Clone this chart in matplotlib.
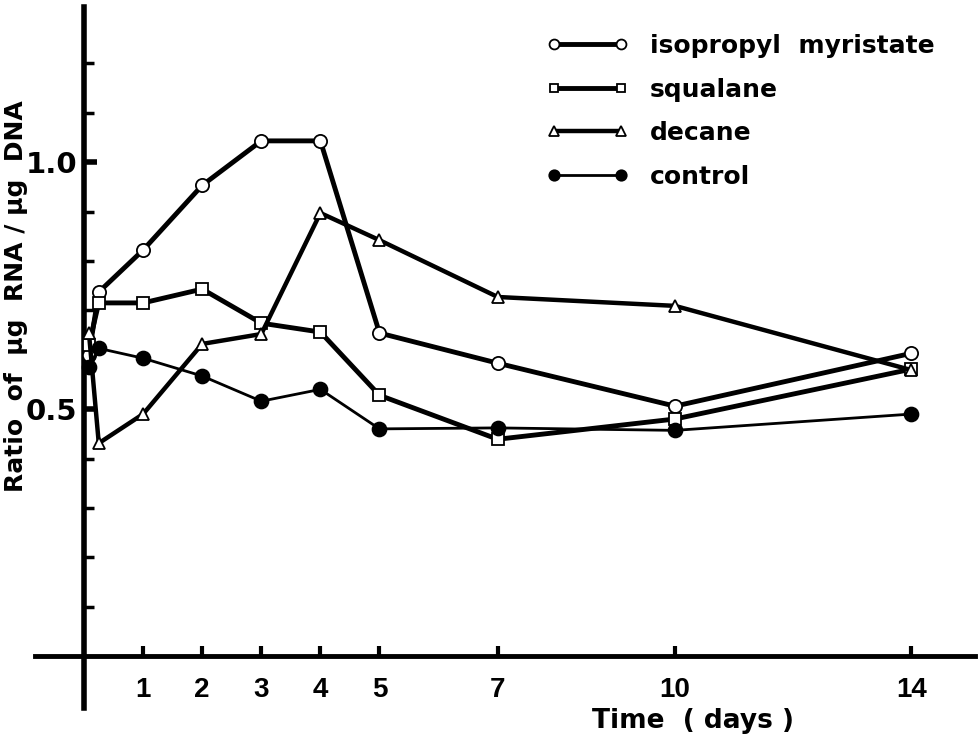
import matplotlib
matplotlib.use("Agg")
import matplotlib.pyplot as plt
from matplotlib.ticker import FixedLocator, NullFormatter

# time points (days); first two points are 2 h and 6 h
days = [0.083, 0.25, 1, 2, 3, 4, 5, 7, 10, 14]

isopropyl = [0.61, 0.737, 0.822, 0.953, 1.043, 1.043, 0.654, 0.593, 0.506, 0.613]
squalane = [0.63, 0.715, 0.715, 0.743, 0.674, 0.656, 0.528, 0.439, 0.480, 0.581]
decane = [0.655, 0.431, 0.490, 0.632, 0.652, 0.897, 0.842, 0.727, 0.709, 0.579]
control = [0.585, 0.623, 0.603, 0.567, 0.516, 0.540, 0.460, 0.462, 0.457, 0.490]

series_names = ["isopropyl  myristate", "squalane", "decane", "control"]
x_ticks = [1, 2, 3, 4, 5, 7, 10, 14]
y_ticks = [0.1, 0.2, 0.3, 0.4, 0.6, 0.7, 0.8, 0.9, 1.1, 1.2]
y_major = [0.5, 1.0]

plt.rcParams["font.family"] = ["DejaVu Sans"]

fig = plt.figure(figsize=(9.79, 7.37), dpi=100)
ax = fig.add_axes([35 / 979, 29 / 737, 940 / 979, 701 / 737])
ax.set_xlim(-0.829, 15.076)
ax.set_ylim(-0.105, 1.314)

for side in ("top", "right"):
    ax.spines[side].set_visible(False)
ax.spines["left"].set_position(("data", 0))
ax.spines["bottom"].set_position(("data", 0))
ax.spines["left"].set_linewidth(4)
ax.spines["bottom"].set_linewidth(3.5)

common = dict(color="black", markeredgecolor="black", markeredgewidth=1.3,
              clip_on=False, zorder=3)
ax.plot(days, isopropyl, marker="o", markersize=9.5, markerfacecolor="white",
        linewidth=3.5, label=series_names[0], **common)
ax.plot(days, squalane, marker="s", markersize=8, markerfacecolor="white",
        linewidth=3.5, label=series_names[1], **common)
ax.plot(days, decane, marker="^", markersize=9, markerfacecolor="white",
        linewidth=3.2, label=series_names[2], **common)
ax.plot(days, control, marker="o", markersize=10, markerfacecolor="black",
        linewidth=2.0, label=series_names[3], **common)

wide = ["Liberation Sans", "DejaVu Sans"]

ax.xaxis.set_major_locator(FixedLocator(x_ticks))
ax.set_xticklabels([str(t) for t in x_ticks], fontsize=20,
                   fontweight="bold", family=wide)
ax.tick_params(axis="x", direction="in", length=7, width=3, pad=15)

ax.yaxis.set_major_locator(FixedLocator(y_major))
ax.yaxis.set_minor_locator(FixedLocator(y_ticks))
ax.yaxis.set_minor_formatter(NullFormatter())
ax.set_yticklabels(["0.5", "1.0"], fontsize=21, fontweight="bold",
                   family="DejaVu Sans")
ax.tick_params(axis="y", which="major", direction="in", length=9, width=4, pad=5)
ax.tick_params(axis="y", which="minor", direction="in", length=7, width=2.5)

fig.text(16 / 979, 1 - 296 / 737, "Ratio  of  µg  RNA / µg  DNA", rotation=90,
         ha="center", va="center", fontsize=18, fontweight="bold")
fig.text(693 / 979, 1 - 721 / 737, "Time  ( days )", ha="center", va="center",
         fontsize=19, fontweight="bold")

ax.legend(loc="upper left", bbox_to_anchor=(546 / 979, 1 - 34 / 737),
          bbox_transform=fig.transFigure, frameon=False, numpoints=2,
          markerscale=0.75, handlelength=3.3, handletextpad=0.85,
          labelspacing=0.78, borderpad=0, borderaxespad=0,
          prop={"size": 18, "weight": "bold"})

fig.savefig("out.png", dpi=100)
